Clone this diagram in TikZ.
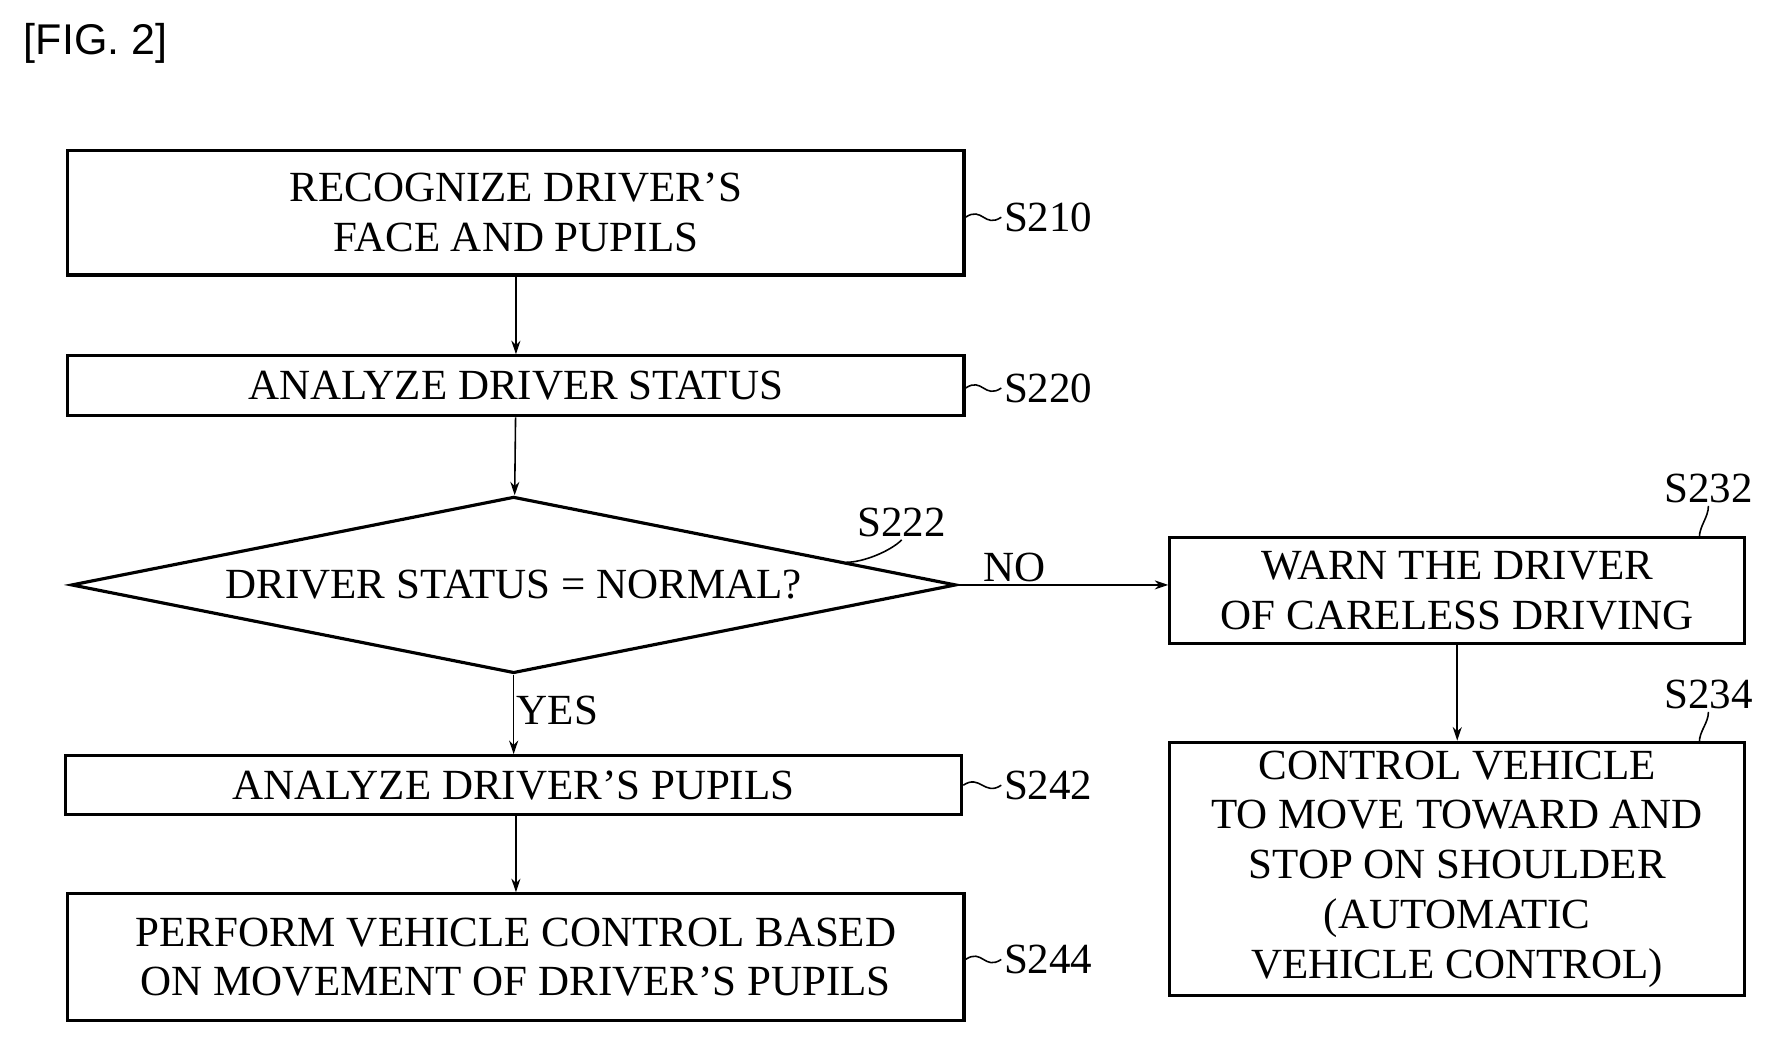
\documentclass[tikz,border=0pt]{standalone}
\usepackage{fontspec}
\setmainfont{Liberation Serif}
\newfontfamily\figfont{Liberation Sans}
\usetikzlibrary{shapes.geometric,arrows.meta,positioning}
\tikzset{
  proc/.style={draw,line width=1.4pt,align=center,inner sep=0pt,font=\fontsize{19}{22}\selectfont},
  test/.style={draw,diamond,aspect=5,line width=1.4pt,inner sep=0pt,font=\fontsize{19}{22}\selectfont},
  lab/.style={font=\fontsize{19}{22}\selectfont,inner sep=1pt},
  flow/.style={-{Stealth[length=6pt,width=4pt]},line width=0.7pt},
  tag/.style={line width=0.7pt}
}
\begin{document}
\begin{tikzpicture}[x=0.5pt,y=-0.5pt]
\useasboundingbox (0,0) rectangle (1560,919);
\node[font=\figfont\fontsize{19}{22}\selectfont,anchor=west] (fig) at (14,38) {[FIG. 2]};

% left column
\node[proc,minimum width=396pt,minimum height=55pt] (s210) at (456,188) {RECOGNIZE DRIVER'S\\FACE AND PUPILS};
\node[proc,minimum width=396pt,minimum height=26.5pt] (s220) at (456,341) {ANALYZE DRIVER STATUS};
\node[test,minimum width=391pt,minimum height=78pt] (s222) at (454,517) {DRIVER STATUS = NORMAL?};
\node[proc,minimum width=396pt,minimum height=26pt] (s242) at (454,694) {ANALYZE DRIVER'S PUPILS};
\node[proc,minimum width=396pt,minimum height=56pt] (s244) at (456,846) {PERFORM VEHICLE CONTROL BASED\\ON MOVEMENT OF DRIVER'S PUPILS};

% right column
\node[proc,minimum width=254pt,minimum height=47pt] (s232) at (1288,522) {WARN THE DRIVER\\OF CARELESS DRIVING};
\node[proc,minimum width=254pt,minimum height=112pt] (s234) at (1288,768) {CONTROL VEHICLE\\TO MOVE TOWARD AND\\STOP ON SHOULDER\\(AUTOMATIC\\VEHICLE CONTROL)};

% connectors
\draw[flow] (s210) -- (s220);
\draw[flow] (s220) -- (s222);
\draw[flow] (s222) -- node[lab,right,pos=0.45] (yes) {YES} (s242);
\draw[flow] (s242.south -| s244) -- (s244);
\draw[flow] (s222.east) -- node[lab,above,pos=0.27] (no) {NO} (s232.west |- s222.east);
\draw[flow] (s232) -- (s234);

% proc tags
\node[lab,anchor=west] (t210) at (885,192) {S210};
\node[lab,anchor=west] (t220) at (885,343) {S220};
\node[lab,anchor=west] (t242) at (885,694) {S242};
\node[lab,anchor=west] (t244) at (885,848) {S244};
\node[lab] (t222) at (797,462) {S222};
\node[lab] (t232) at (1510,432) {S232};
\node[lab] (t234) at (1510,614) {S234};
\draw[tag] (s210.east |- t210) .. controls +(15,-10) and +(-15,10) .. (t210.west);
\draw[tag] (s220.east |- t220) .. controls +(15,-10) and +(-15,10) .. (t220.west);
\draw[tag] (s242.east |- t242) .. controls +(15,-10) and +(-15,10) .. (t242.west);
\draw[tag] (s244.east |- t244) .. controls +(15,-10) and +(-15,10) .. (t244.west);
\coordinate (c222) at (748,497);
\coordinate (c232) at (1502,475);
\coordinate (c234) at (1502,656);
\draw[tag] (c222) .. controls +(15,0) and +(-10,10) .. (t222.south);
\draw[tag] (c232) .. controls +(0,-10) and +(0,10) .. (t232.south);
\draw[tag] (c234) .. controls +(0,-10) and +(0,10) .. (t234.south);
\end{tikzpicture}
\end{document}
